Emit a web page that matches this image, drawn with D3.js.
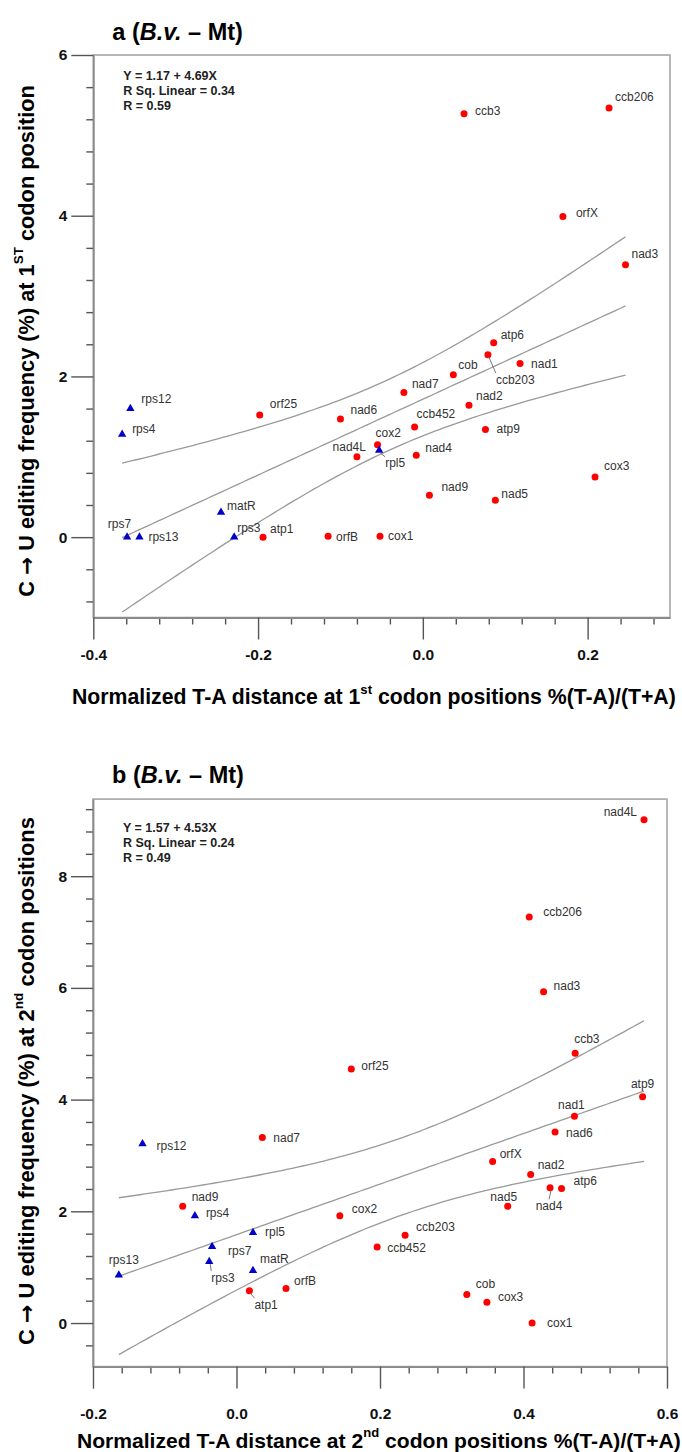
<!DOCTYPE html>
<html><head><meta charset="utf-8">
<script src="https://cdn.jsdelivr.net/npm/d3@7"></script>
<style>
body{margin:0;background:#fff}
text{font-family:"Liberation Sans",Arial,Helvetica,sans-serif}
</style>
</head><body>
<svg id="c" width="682" height="1452"></svg>
<script>
// ---------------- DATA ----------------
const genes = ["ccb3","ccb206","orfX","nad3","atp6","ccb203","nad1","cob","nad7","nad2","nad6","ccb452","atp9","cox2","rpl5","nad4L","nad4","cox3","nad9","nad5","orfB","cox1","rps12","rps4","orf25","matR","rps7","rps13","rps3","atp1"];
const triangleGenes = ["rps12","rps4","rps7","rps13","rps3","matR","rpl5"];

// panel a: 1st codon position
const xA = [0.050,0.226,0.170,0.246,0.086,0.079,0.118,0.037,-0.023,0.056,-0.100,-0.010,0.076,-0.055,-0.053,-0.080,-0.008,0.209,0.008,0.088,-0.115,-0.052,-0.355,-0.365,-0.198,-0.245,-0.359,-0.344,-0.229,-0.194];
const yA = [5.27,5.34,3.99,3.39,2.42,2.27,2.16,2.02,1.80,1.64,1.47,1.37,1.34,1.15,1.08,1.00,1.02,0.75,0.52,0.46,0.01,0.01,1.60,1.28,1.52,0.31,0.00,0.00,0.00,0.00];

// panel b: 2nd codon position
const xB = [0.472,0.408,0.357,0.428,0.453,0.235,0.471,0.321,0.036,0.410,0.444,0.196,0.566,0.144,0.023,0.568,0.437,0.349,-0.075,0.378,0.069,0.412,-0.131,-0.058,0.160,0.023,-0.034,-0.164,-0.038,0.018];
const yB = [4.83,7.27,2.89,5.93,2.41,1.57,3.70,0.51,3.32,2.66,3.42,1.36,4.05,1.92,1.62,9.01,2.42,0.37,2.09,2.09,0.62,0.00,3.21,1.92,4.55,0.94,1.37,0.86,1.10,0.58];

const statsA = ["Y = 1.17 + 4.69X","R Sq. Linear = 0.34","R = 0.59"];
const statsB = ["Y = 1.57 + 4.53X","R Sq. Linear = 0.24","R = 0.49"];

const xTicksA = [-0.4,-0.2,0.0,0.2];
const yTicksA = [0,2,4,6];
const xTicksB = [-0.2,0.0,0.2,0.4,0.6];
const yTicksB = [0,2,4,6,8];

const T_CRIT = 2.048; // t(0.975, df=28), 95% mean confidence band

// ---------------- LABEL PLACEMENT (layout) ----------------
// [dx, dy(center), anchor, leader]
const placeA = {
 ccb3:[11,-3], ccb206:[6,-11], orfX:[13,-4], nad3:[6,-11], atp6:[7,-8],
 ccb203:[8,25,'start',1], nad1:[11,0], cob:[5,-10], nad7:[8,-9], nad2:[7,-9],
 nad6:[10,-9], ccb452:[2,-13], atp9:[11,0], cox2:[-2,-12], rpl5:[6,13,'start',1],
 nad4L:[9,-10,'end'], nad4:[9,-7], cox3:[9,-11], nad9:[12,-8], nad5:[6,-6],
 orfB:[8,1], cox1:[8,0], rps12:[11,-10], rps4:[10,-5], orf25:[10,-11],
 matR:[6,-6], rps7:[4,-13,'end'], rps13:[9,0], rps3:[3,-9], atp1:[7,-8]
};
const placeB = {
 nad4L:[-7,-8,'end'], ccb206:[14,-5], nad3:[10,-6], ccb3:[-1,-14], orf25:[10,-3],
 atp9:[0,-13,'middle'], nad1:[-3,-11,'middle'], nad6:[11,1], orfX:[7,-8], nad2:[7,-9],
 nad4:[-1,18,'middle',1], atp6:[12,-7], nad5:[-4,-9,'middle'], cox2:[12,-7], ccb203:[11,-8],
 ccb452:[10,1], cob:[9,-11], cox3:[11,-5], cox1:[15,0], nad7:[11,0],
 rps12:[14,2], nad9:[9,-9], rps4:[11,-3], rpl5:[12,-1], rps7:[16,4],
 rps3:[2,16,'start',1], matR:[7,-12], atp1:[5,14,'start',1], orfB:[8,-7], rps13:[5,-15,'middle']
};

const svg = d3.select("#c");

function titleText(parent, parts, size){
  const t = parent.append("text").attr("font-weight","bold").attr("fill","#000");
  function build(sz){
    t.selectAll("tspan").remove();
    t.attr("font-size", sz);
    let prevSup = false;
    parts.forEach(p=>{
      const ts = t.append("tspan").text(p.t);
      if(p.sup){ ts.attr("font-size", sz*0.62).attr("dy", -sz*0.38); prevSup = true; }
      else if(prevSup){ ts.attr("dy", sz*0.38); prevSup = false; }
      if(p.f) ts.attr("font-family", p.f);
    });
  }
  build(size);
  return {node:t, build};
}
function fitTitle(parent, parts, target){
  const o = titleText(parent, parts, 18);
  const w = o.node.node().getBBox().width;
  o.build(18*target/w);
  return o.node;
}

function fit(xs, ys){
  const n = xs.length, mx = d3.mean(xs), my = d3.mean(ys);
  let sxx=0, sxy=0, syy=0;
  for(let i=0;i<n;i++){const dx=xs[i]-mx, dy=ys[i]-my; sxx+=dx*dx; sxy+=dx*dy; syy+=dy*dy;}
  const b = sxy/sxx, a = my - b*mx;
  const s = Math.sqrt((syy - b*sxy)/(n-2));
  const [x0,x1] = d3.extent(xs);
  return d3.range(0,101).map(k=>{
    const xv = x0 + (x1-x0)*k/100;
    const yh = a + b*xv;
    const h = T_CRIT*s*Math.sqrt(1/n + (xv-mx)*(xv-mx)/sxx);
    return {x:xv, y:yh, lo:yh-h, hi:yh+h};
  });
}

function panel(cfg){
  const g = svg.append("g");
  const x = d3.scaleLinear().domain(cfg.xdom).range([cfg.left, cfg.right]);
  const y = d3.scaleLinear().domain(cfg.ydom).range([cfg.bottom, cfg.top]);

  // frame
  g.append("rect").attr("x",cfg.left).attr("y",cfg.top)
    .attr("width",cfg.right-cfg.left).attr("height",cfg.bottom-cfg.top)
    .attr("fill","none").attr("stroke","#a6a6a6").attr("stroke-width",1.6);

  // minor ticks
  const minorY = d3.range(Math.ceil(cfg.ydom[0]/0.4-1e-9), Math.floor(cfg.ydom[1]/0.4+1e-9)+1)
      .filter(i=>i%5!==0).map(i=>i*0.4);
  const minorX = d3.range(Math.ceil(cfg.xdom[0]/0.04-1e-9), Math.floor(cfg.xdom[1]/0.04+1e-9)+1)
      .filter(i=>i%5!==0).map(i=>i*0.04);

  const ay2 = g.append("g").attr("transform",`translate(${cfg.left},0)`)
    .call(d3.axisLeft(y).tickValues(minorY).tickSize(7).tickSizeOuter(0).tickFormat(""));
  const ax2 = g.append("g").attr("transform",`translate(0,${cfg.bottom})`)
    .call(d3.axisBottom(x).tickValues(minorX).tickSize(7).tickSizeOuter(0).tickFormat(""));
  [ay2,ax2].forEach(a=>{a.select(".domain").remove(); a.selectAll("line").attr("stroke","#555").attr("stroke-width",1.4);});

  const ay = g.append("g").attr("transform",`translate(${cfg.left},0)`)
    .call(d3.axisLeft(y).tickValues(cfg.yticks).tickSize(22).tickSizeOuter(0).tickPadding(4).tickFormat(d=>String(d)));
  const ax = g.append("g").attr("transform",`translate(0,${cfg.bottom})`)
    .call(d3.axisBottom(x).tickValues(cfg.xticks).tickSize(22).tickSizeOuter(0).tickPadding(cfg.xpad).tickFormat(d=>d.toFixed(1)));
  [ay,ax].forEach(a=>{
    a.select(".domain").attr("stroke","#8a8a8a").attr("stroke-width",1.8);
    a.selectAll(".tick line").attr("stroke","#555").attr("stroke-width",1.4);
    a.selectAll(".tick text").attr("font-size",15.5).attr("font-weight","bold").attr("fill","#111")
      .attr("font-family",'"Liberation Sans",Arial,sans-serif');
  });

  // regression line + 95% band
  const band = fit(cfg.xs, cfg.ys);
  ["lo","y","hi"].forEach(k=>{
    g.append("path").datum(band)
      .attr("d", d3.line().x(d=>x(d.x)).y(d=>y(d[k])))
      .attr("fill","none").attr("stroke","#9a9a9a").attr("stroke-width",1.3);
  });

  // stats
  g.append("g").selectAll("text").data(cfg.stats).join("text")
    .attr("x", cfg.left+30).attr("y",(d,i)=>cfg.statsY + i*15)
    .attr("dominant-baseline","central")
    .attr("font-size",12.5).attr("font-weight","bold").attr("fill","#222").text(d=>d);

  // points
  const pts = genes.map((name,i)=>({name, x:cfg.xs[i], y:cfg.ys[i], tri: triangleGenes.includes(name)}));
  const mk = g.append("g");
  mk.selectAll("circle").data(pts.filter(d=>!d.tri)).join("circle")
    .attr("cx",d=>x(d.x)).attr("cy",d=>y(d.y)).attr("r",3.5).attr("fill","#ff0000");
  mk.selectAll("path").data(pts.filter(d=>d.tri)).join("path")
    .attr("d", d3.symbol(d3.symbolTriangle, 30))
    .attr("transform", d=>`translate(${x(d.x)},${y(d.y)})`).attr("fill","#0000c8");

  // labels
  const lg = g.append("g");
  pts.forEach(d=>{
    const p = cfg.place[d.name] || [8,-8];
    const px = x(d.x), py = y(d.y);
    if(p[3]){
      lg.append("line").attr("x1",px+1).attr("y1",py+2.5)
        .attr("x2",px+p[0]).attr("y2",py+p[1]-6.5)
        .attr("stroke","#777").attr("stroke-width",1);
    }
    lg.append("text").attr("x",px+p[0]).attr("y",py+p[1])
      .attr("dominant-baseline","central").attr("text-anchor",p[2]||"start")
      .attr("font-size",12).attr("fill","#333").text(d.name);
  });

  // panel title
  const tt = g.append("text").attr("x",cfg.left+19).attr("y",cfg.titleY)
    .attr("font-size",23.5).attr("font-weight","bold").attr("fill","#000");
  tt.append("tspan").text(cfg.letter+" (");
  tt.append("tspan").attr("font-style","italic").text("B.v.");
  tt.append("tspan").text(" \u2013 Mt)");

  // x title
  const xt = fitTitle(g, cfg.xtitle, 604);
  xt.attr("x", cfg.xtitleX).attr("y", cfg.xtitleY).attr("dominant-baseline","central");

  // y title
  const yt = fitTitle(g, cfg.ytitle, cfg.ytitleLen);
  yt.attr("text-anchor","middle").attr("dominant-baseline","central")
    .attr("transform",`translate(26,${cfg.ytitleC}) rotate(-90)`);
}

const ARROW_FONT = '"DejaVu Sans"';
panel({
  letter:"a", xs:xA, ys:yA, xdom:[-0.4,0.3], ydom:[-1,6],
  left:93.3, right:670, top:55, bottom:617.5, xticks:xTicksA, yticks:yTicksA, xpad:9,
  stats:statsA, statsY:76, place:placeA, titleY:40,
  xtitle:[{t:"Normalized T-A distance at 1"},{t:"st",sup:1},{t:" codon positions %(T-A)/(T+A)"}],
  xtitleX:72, xtitleY:697,
  ytitle:[{t:"C "},{t:"\u2192",f:ARROW_FONT},{t:" U editing frequency (%) at 1"},{t:"ST",sup:1},{t:" codon position"}],
  ytitleLen:512, ytitleC:341
});
panel({
  letter:"b", xs:xB, ys:yB, xdom:[-0.2,0.6], ydom:[-0.78,9.38],
  left:93, right:667, top:799.1, bottom:1366.6, xticks:xTicksB, yticks:yTicksB, xpad:19,
  stats:statsB, statsY:828, place:placeB, titleY:783,
  xtitle:[{t:"Normalized T-A distance at 2"},{t:"nd",sup:1},{t:" codon positions %(T-A)/(T+A)"}],
  xtitleX:77, xtitleY:1440,
  ytitle:[{t:"C "},{t:"\u2192",f:ARROW_FONT},{t:" U editing frequency (%) at 2"},{t:"nd",sup:1},{t:" codon positions"}],
  ytitleLen:528, ytitleC:1081
});
</script>
</body></html>
